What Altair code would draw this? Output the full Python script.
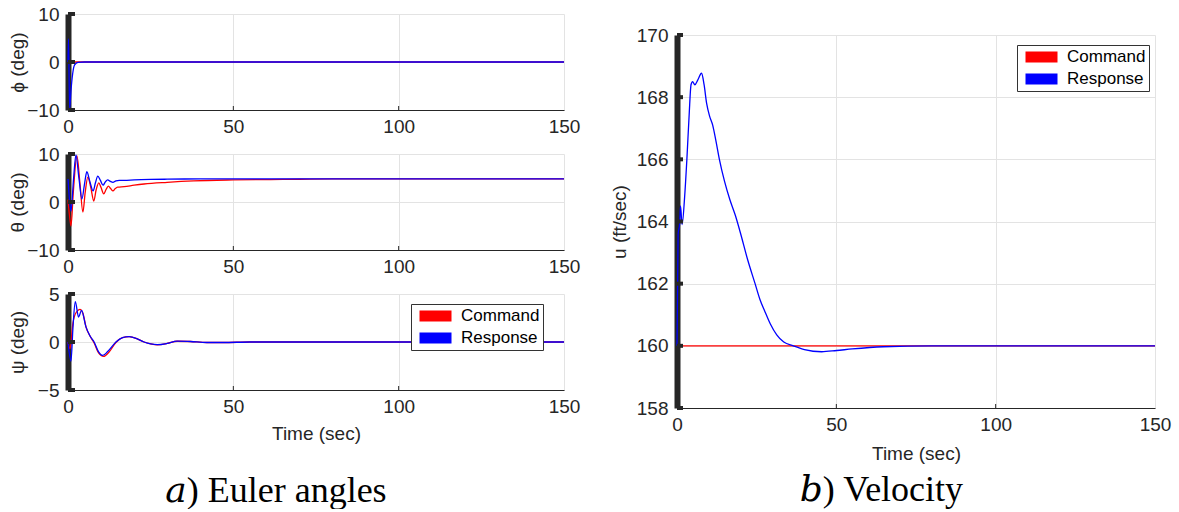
import altair as alt
import pandas as pd

# ---------------- data ----------------
TIME_TICKS = [0, 50, 100, 150]
SERIES = ["Command", "Response"]
COLORS = ["#ff0000", "#0000ff"]

# phi (deg)
phi_cmd_t = [0, 150]
phi_cmd_v = [0, 0]
phi_rsp_t = [0, 0.15, 0.5, 0.9, 1.4, 2.0, 3.0, 5.0, 150]
phi_rsp_v = [0, 4.8, -9.8, -6.0, -2.5, -0.6, -0.1, 0, 0]

# theta (deg)
th_cmd_t = [0, 0.4, 0.9, 1.6, 2.7, 3.6, 4.5, 5.2, 6.0, 6.9, 7.8, 8.5, 9.3, 10.0, 10.8, 11.5,
            12.2, 12.9, 13.6, 14.3, 15.0, 17, 20, 23, 30, 38, 50, 65, 80, 100, 150]
th_cmd_v = [0.5, -2.5, -5.0, 2.0, 9.6, 4.0, -2.1, 2.0, 5.2, 3.0, 0.2, 2.5, 4.0, 3.0, 1.7, 2.6,
            3.3, 2.8, 2.3, 2.8, 3.1, 3.2, 3.5, 3.75, 4.1, 4.4, 4.6, 4.7, 4.8, 4.8, 4.8]
th_rsp_t = [0, 0.4, 0.9, 1.7, 2.4, 3.3, 4.2, 5.0, 5.7, 6.6, 7.6, 8.3, 9.0, 9.8, 10.6, 11.3,
            12.0, 12.8, 13.6, 14.5, 15.5, 17, 20, 25, 30, 40, 60, 80, 150]
th_rsp_v = [4.8, 1.0, -1.9, 5.0, 9.8, 5.0, 0.6, 3.8, 6.3, 4.3, 2.3, 4.0, 5.4, 4.5, 3.5, 4.2,
            4.6, 4.3, 4.1, 4.4, 4.5, 4.5, 4.6, 4.7, 4.75, 4.8, 4.8, 4.8, 4.8]

# psi (deg)
psi_cmd_t = [0, 0.6, 1.5, 2.5, 3.6, 4.5, 5.5, 6.7, 7.9, 9.2, 10.8, 12.3, 14.5, 16.5, 18.5,
             20.8, 23, 25, 27, 30, 33, 37, 42, 47, 55, 70, 150]
psi_cmd_v = [0, -0.7, 2.0, 3.1, 3.4, 3.0, 1.5, 0.6, -0.1, -1.1, -1.5, -1.1, -0.05, 0.45, 0.55,
             0.35, 0, -0.2, -0.3, -0.15, 0.08, 0.05, -0.05, -0.05, 0, 0, 0]
psi_rsp_t = [0, 0.9, 1.5, 2.2, 3.2, 4.1, 5.4, 6.7, 7.9, 9.2, 10.5, 12, 14.5, 16.5, 18.5,
             20.8, 23, 25, 27, 30, 33, 37, 42, 47, 55, 70, 150]
psi_rsp_v = [0, -2.0, 1.5, 4.2, 2.6, 3.3, 1.6, 0.6, 0, -1.0, -1.4, -1.0, 0, 0.45, 0.55,
             0.35, 0, -0.2, -0.28, -0.15, 0.1, 0.05, -0.05, -0.05, 0, 0, 0]

# u (ft/sec)
u_cmd_t = [0, 150]
u_cmd_v = [160, 160]
u_rsp_t = [0, 0.35, 0.8, 1.1, 1.6, 2.4, 3.1, 3.8, 4.4, 4.9, 5.6, 6.5, 7.7, 8.5, 9.3, 10.2,
           11.2, 12.2, 13.3, 14.9, 16.6, 18.3, 19.8, 22.2, 24.5, 26, 27.6, 29.3, 31.3, 33.5,
           36.5, 40, 45.4, 50.1, 55, 64.7, 80, 150]
u_rsp_v = [160, 163.6, 163.9, 164.5, 163.9, 164.8, 166.0, 167.4, 168.4, 168.5, 168.4, 168.55,
           168.77, 168.4, 167.8, 167.4, 167.1, 166.6, 166.0, 165.3, 164.7, 164.2, 163.67,
           162.76, 162.0, 161.5, 161.1, 160.7, 160.35, 160.12, 160.0, 159.88, 159.81, 159.85,
           159.9, 159.97, 160.0, 160.0]

ANGLE_TICKS = [-10, 0, 10]
PSI_TICKS = [-5, 0, 5]
U_TICKS = [158, 160, 162, 164, 166, 168, 170]
INNER_X_TICKS = [50, 100]

FONT = "Liberation Sans"
SERIF = "Liberation Serif, DejaVu Serif, serif"
INK = "#262626"


def frame(ct, cv, rt, rv):
    return pd.DataFrame({
        "t": list(ct) + list(rt),
        "v": list(cv) + list(rv),
        "series": ["Command"] * len(ct) + ["Response"] * len(rt),
    })


def panel(df, ydom, yticks, ytitle, w, h, xtitle=None, legend=None, ext=37, tick_len=7,
          xtitle_pad=8):
    color = alt.Color("series:N", scale=alt.Scale(domain=SERIES, range=COLORS),
                      legend=legend)
    xaxis = alt.Axis(values=TIME_TICKS, grid=True, gridColor="#e3e3e3", tickSize=0,
                     labelPadding=7, labelFontSize=19, labelFont=FONT, labelColor=INK,
                     domainColor=INK, domainWidth=1, title=xtitle, titleFont=FONT,
                     titleFontSize=19, titleFontWeight="normal", titleColor=INK,
                     titlePadding=xtitle_pad, labelFlush=False)
    yaxis = alt.Axis(values=yticks, grid=True, gridColor="#e3e3e3", tickSize=0,
                     labelPadding=9, labelFontSize=19, labelFont=FONT, labelColor=INK,
                     domainColor=INK, domainWidth=6, title=ytitle, titleFont=FONT,
                     titleFontSize=19, titleFontWeight="normal", titleColor=INK,
                     titlePadding=4, minExtent=ext, maxExtent=ext, labelFlush=False)
    x = alt.X("t:Q", scale=alt.Scale(domain=[0, 150], nice=False), axis=xaxis)
    y = alt.Y("v:Q", scale=alt.Scale(domain=ydom, nice=False), axis=yaxis)
    lines = alt.Chart(df).mark_line(strokeWidth=1.3, interpolate="monotone").encode(
        x=x, y=y, color=color)
    yt = alt.Chart(pd.DataFrame({"v": yticks})).mark_rule(
        color=INK, strokeWidth=4).encode(
        y=alt.Y("v:Q"), x=alt.value(0), x2=alt.value(tick_len))
    xt = alt.Chart(pd.DataFrame({"t": INNER_X_TICKS})).mark_rule(
        color=INK, strokeWidth=1).encode(
        x=alt.X("t:Q"), y=alt.value(h), y2=alt.value(h - 4))
    return alt.layer(lines, yt, xt).properties(width=w, height=h)


def make_legend(lx, ly):
    return alt.Legend(orient="none", legendX=lx, legendY=ly, title=None,
                      symbolType="M-3.2,0H3.2", symbolSize=100, symbolStrokeWidth=11,
                      symbolOffset=11, labelOffset=15, labelFontSize=17, labelFont=FONT,
                      labelColor="#000000", strokeColor="#333333", fillColor="white",
                      padding=3, rowPadding=4, clipHeight=18)


LW, LH = 496, 96
p1 = panel(frame(phi_cmd_t, phi_cmd_v, phi_rsp_t, phi_rsp_v), [-10, 10], ANGLE_TICKS,
           "ϕ (deg)", LW, LH)
p2 = panel(frame(th_cmd_t, th_cmd_v, th_rsp_t, th_rsp_v), [-10, 10], ANGLE_TICKS,
           "θ (deg)", LW, LH)
p3 = panel(frame(psi_cmd_t, psi_cmd_v, psi_rsp_t, psi_rsp_v), [-5, 5], PSI_TICKS,
           "ψ (deg)", LW, LH, xtitle="Time (sec)", legend=make_legend(343, 10),
           xtitle_pad=8)

left = alt.vconcat(p1, p2, p3, spacing=9).resolve_legend(color="independent").properties(
    title=alt.TitleParams("𝑎) Euler angles", orient="bottom", anchor="middle",
                          frame="bounds", font=SERIF, fontSize=36, dx=-18,
                          fontWeight="normal", color="#000000", offset=31))

right_inner = panel(frame(u_cmd_t, u_cmd_v, u_rsp_t, u_rsp_v), [158, 170], U_TICKS,
                    "u (ft/sec)", 478, 373, xtitle="Time (sec)",
                    legend=make_legend(340, 10), ext=44, tick_len=6, xtitle_pad=10)

spacer = alt.Chart(pd.DataFrame({"s": [0]})).mark_text(text="").encode(
    x=alt.value(0), y=alt.value(0)).properties(width=478, height=1)

right = alt.vconcat(spacer, right_inner, spacing=7).resolve_legend(
    color="independent").resolve_scale(color="independent").properties(
    title=alt.TitleParams("𝑏) Velocity", orient="bottom", anchor="middle",
                          frame="bounds", font=SERIF, fontSize=36, dx=-9,
                          fontWeight="normal", color="#000000", offset=10))

chart = alt.hconcat(left, right, spacing=30).resolve_legend(
    color="independent").resolve_scale(color="independent").properties(
    padding={"left": 8, "top": 5, "right": 5, "bottom": 0}).configure_view(stroke=None)

chart.save("out.html", embed_options={"renderer": "svg", "actions": False})
